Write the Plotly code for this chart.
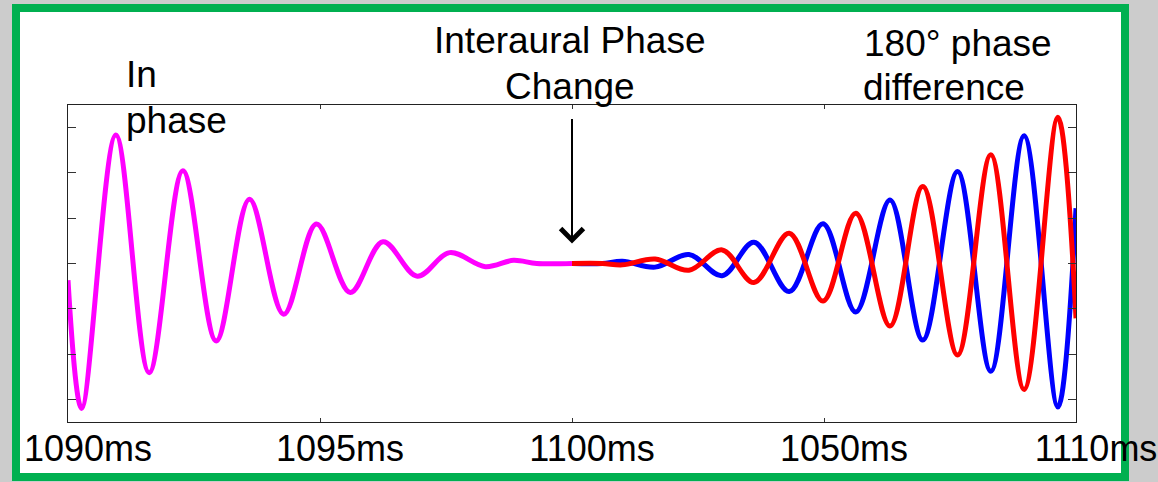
import plotly.graph_objects as go

# ---- data ----
# In-phase (magenta) waveform extrema, time in ms and amplitude
t_in = [1090.00, 1090.27, 1090.95, 1091.61, 1092.28, 1092.94, 1093.60, 1094.28,
        1094.93, 1095.60, 1096.25, 1096.93, 1097.57, 1098.28, 1098.84, 1099.30, 1100.00]
v_in = [-0.37, -3.20, 2.84, -2.41, 2.05, -1.71, 1.42, -1.12,
        0.87, -0.64, 0.48, -0.28, 0.24, -0.07, 0.07, 0.0, 0.0]

# After the interaural phase change: blue and red in antiphase
t_out = [1100.00, 1100.60, 1101.00, 1101.65, 1102.32, 1102.98, 1103.61, 1104.31,
         1104.98, 1105.63, 1106.31, 1106.96, 1107.65, 1108.31, 1108.97, 1109.64, 1110.00]
v_blue = [0.0, 0.0, 0.05, -0.08, 0.20, -0.27, 0.47, -0.62,
          0.88, -1.07, 1.40, -1.69, 2.03, -2.38, 2.82, -3.17, 1.22]
v_red = [0.0, 0.0, -0.03, 0.10, -0.15, 0.30, -0.42, 0.67,
         -0.83, 1.11, -1.38, 1.70, -2.02, 2.40, -2.78, 3.23, -1.21]

tick_vals = [1090, 1095, 1100, 1105, 1110]
tick_text = ["1090ms", "1095ms", "1100ms", "1050ms", "1110ms"]
y_ticks = [-3, -2, -1, 0, 1, 2, 3]

FONT = "Liberation Sans, Arial, sans-serif"
LW = 5

fig = go.Figure()
fig.add_trace(go.Scatter(x=t_in, y=v_in, mode="lines",
                         line=dict(color="#ff00ff", width=LW, shape="spline", smoothing=1.0),
                         showlegend=False, hoverinfo="skip"))
fig.add_trace(go.Scatter(x=t_out, y=v_blue, mode="lines",
                         line=dict(color="#0000ff", width=LW, shape="spline", smoothing=1.0),
                         showlegend=False, hoverinfo="skip"))
fig.add_trace(go.Scatter(x=t_out, y=v_red, mode="lines",
                         line=dict(color="#ff0000", width=LW, shape="spline", smoothing=1.0),
                         showlegend=False, hoverinfo="skip"))

W, H = 1158, 482
L, R, T, B = 68, 1076, 105, 422
pw, ph = R - L, B - T


def px(x):
    return (x - L) / pw


def py(y):
    return (B - y) / ph


fig.update_layout(
    template="none",
    width=W, height=H, autosize=False,
    margin=dict(l=L, r=W - R, t=T, b=H - B, pad=0, autoexpand=False),
    paper_bgcolor="#cccccc",
    plot_bgcolor="white",
    font=dict(family=FONT, size=37, color="black"),
    xaxis=dict(range=[1090, 1110], tickvals=tick_vals, ticktext=tick_text,
               ticks="inside", ticklen=4, tickcolor="#333333", tickwidth=1,
               showline=True, linecolor="#222222", linewidth=1, mirror="ticks",
               showgrid=False, zeroline=False, ticklabelshift=20, ticklabelstandoff=-5,
               automargin=False,
               tickfont=dict(family=FONT, size=36, color="black")),
    yaxis=dict(range=[-3.5, 3.5], tickvals=y_ticks, showticklabels=False,
               ticks="inside", ticklen=8, tickcolor="#333333", tickwidth=1,
               showline=True, linecolor="#222222", linewidth=1, mirror="ticks",
               showgrid=False, zeroline=False, automargin=False),
    shapes=[dict(type="rect", xref="paper", yref="paper",
                 x0=px(16), x1=px(1125), y0=py(8), y1=py(477),
                 line=dict(color="#00b050", width=8), fillcolor="white", layer="below")],
)

labels = [
    ("In", 124, 74.5, "left"),
    ("phase", 124, 120, "left"),
    ("Interaural Phase", 570, 41, "center"),
    ("Change", 570, 86.5, "center"),
    ("180° phase", 862, 43.5, "left"),
    ("difference", 861, 88, "left"),
]
for txt, lx, ly, anc in labels:
    fig.add_annotation(xref="paper", yref="paper", x=px(lx), y=py(ly),
                       xanchor=anc, yanchor="middle", align=anc,
                       text=txt, showarrow=False)

fig.add_annotation(x=1100, y=0.44, xref="x", yref="y", ax=0, ay=-126,
                   text="", showarrow=True, arrowhead=4, arrowsize=2.2,
                   arrowwidth=2, arrowcolor="black")

fig.write_html("out.html", config={"displayModeBar": False},
               post_script="document.body.style.margin='0px';document.body.style.overflow='hidden';")
